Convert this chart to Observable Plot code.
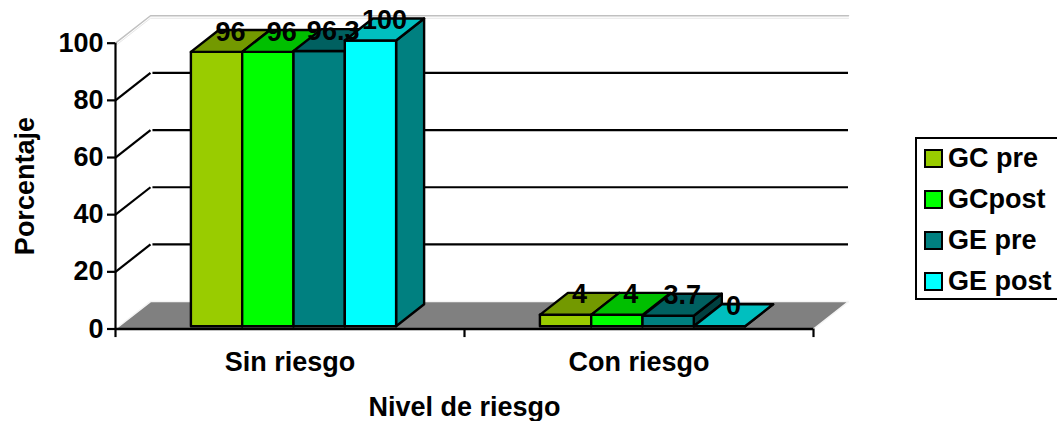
<!DOCTYPE html>
<html>
<head>
<meta charset="utf-8">
<script src="https://cdn.jsdelivr.net/npm/d3@7"></script>
<script src="https://cdn.jsdelivr.net/npm/@observablehq/plot@0.6"></script>
<style>
  html, body { margin: 0; padding: 0; background: #fff; overflow: hidden; }
  #chart { position: relative; width: 1059px; height: 421px; font-family: "Liberation Sans", Arial, sans-serif; font-weight: bold; }
  #chart svg { position: absolute; left: 0; top: 0; }
  #legend { position: absolute; left: 915px; top: 137px; width: 142px; height: 163px; box-sizing: border-box;
            border: 2px solid #000; border-right: none; font-size: 27px; color: #000; }
  #legend .row { position: absolute; left: 7px; display: flex; align-items: center; height: 24px; white-space: nowrap; }
  #legend .sw { width: 15px; height: 15px; border: 2px solid #000; margin-right: 5px; flex: none; }
</style>
</head>
<body>
<div id="chart"></div>
<script>
// Riesgo por grupo, antes y después de la intervención
const categories = ["Sin riesgo", "Con riesgo"];
const seriesNames = ["GC pre", "GCpost", "GE pre", "GE post"];
const gcPre = [96, 4];
const gcPost = [96, 4];
const gePre = [96.3, 3.7];
const gePost = [100, 0];
const seriesValues = [gcPre, gcPost, gePre, gePost];
const frontColors = ["#99cc00", "#00ff00", "#008080", "#00ffff"];
const topColors = ["#739900", "#00bf00", "#006060", "#00bfbf"];
const sideColors = ["#4d6600", "#008000", "#004040", "#008080"];
const yTicks = [0, 20, 40, 60, 80, 100];
const wallTicks = [20, 40, 60, 80];

// Oblique view: depth 0 is the front of the floor, depth 1 the back wall.
const skewX = 0.1003; // categories per unit of depth
const skewY = 9.6;    // percentage points per unit of depth
const px = (c, d) => c + skewX * d;
const py = (v, d) => v + skewY * d;
const point = (c, v, d) => ({x: px(c, d), y: py(v, d)});

const barWidth = 0.147;
const depthFront = 0.1;
const depthBack = 0.9;

// Cuboid faces, painted left to right so each bar covers its neighbour's side.
const faces = [];
categories.forEach((category, ci) => {
  seriesNames.forEach((name, si) => {
    const value = seriesValues[si][ci];
    const c0 = ci + 0.5 + (si - 2) * barWidth;
    const c1 = c0 + barWidth;
    const add = (fill, corners) => {
      const id = `${ci}-${si}-${fill}`;
      [...corners, corners[0]].forEach(([c, v, d]) => faces.push({id, fill, ...point(c, v, d)}));
    };
    add(sideColors[si], [[c1, 0, depthFront], [c1, 0, depthBack], [c1, value, depthBack], [c1, value, depthFront]]);
    add(frontColors[si], [[c0, 0, depthFront], [c1, 0, depthFront], [c1, value, depthFront], [c0, value, depthFront]]);
    add(topColors[si], [[c0, value, depthFront], [c1, value, depthFront], [c1, value, depthBack], [c0, value, depthBack]]);
  });
});

const barLabels = categories.flatMap((category, ci) =>
  seriesNames.map((name, si) => {
    const value = seriesValues[si][ci];
    return {...point(ci + 0.5 + (si - 1.5) * barWidth, value, 0.5), value};
  })
);

const floor = [[0, 0], [2, 0], [2, 1], [0, 1]].map(([c, d]) => point(c, 0, d));
const wallTop = [point(0, 100, 0), point(0, 100, 1), point(2, 100, 1)];
const wallStart = 0.007;
const fontSize = 27;
const bold = {fontSize, fontWeight: "bold", fontFamily: "Liberation Sans, Arial, sans-serif", fill: "#000"};

const plot = Plot.plot({
  width: 1059,
  height: 421,
  marginLeft: 115,
  marginRight: 246,
  marginTop: 42.7,
  marginBottom: 92.5,
  style: {background: "transparent", overflow: "visible"},
  x: {domain: [0, 2], axis: null},
  y: {domain: [0, 100]},
  color: {type: "identity"},
  marks: [
    // Floor and the pale outline of the wall
    Plot.line([...floor, floor[0]], {x: "x", y: "y", fill: "#808080", stroke: "none"}),
    Plot.line(wallTop, {x: "x", y: "y", stroke: "#e6e6e6", strokeWidth: 1, dy: 2.5}),
    Plot.line(wallTop, {x: "x", y: "y", stroke: "#c0c0c0", strokeWidth: 1.5}),
    Plot.line([point(0, 0, 0), point(0, 0, 1), point(2, 0, 1), point(2, 0, 0)], {x: "x", y: "y", stroke: "#f4f4f4", strokeWidth: 1.5}),
    // Gridlines across the wall and along the left side
    Plot.ruleY(wallTicks, {
      y: (v) => py(v, 1), x1: px(wallStart, 1), x2: px(2, 1), stroke: "#000", strokeWidth: 2.2
    }),
    Plot.link(wallTicks, {
      x1: px(0, 0), y1: (v) => v, x2: px(0, 1), y2: (v) => py(v, 1), stroke: "#000", strokeWidth: 2.2
    }),
    // Axes
    Plot.ruleX([0], {y1: 0, y2: 100, stroke: "#000", strokeWidth: 2.2}),
    Plot.ruleY([0], {x1: 0, x2: 2, stroke: "#000", strokeWidth: 2.5}),
    Plot.ruleX([0, 1, 2], {y1: 0, y2: -3, stroke: "#000", strokeWidth: 2.2}),
    Plot.axisY({
      ticks: yTicks, tickSize: 8, tickPadding: 4, label: null, strokeWidth: 2.2,
      fontSize, fontWeight: "bold", fontFamily: bold.fontFamily, fill: "#000", color: "#000"
    }),
    // Bars
    Plot.line(faces, {x: "x", y: "y", z: "id", fill: "fill", stroke: "#000", strokeWidth: 2.4, strokeLinejoin: "round"}),
    // Labels
    Plot.text(barLabels, {x: "x", y: "y", text: "value", dy: -9, ...bold}),
    Plot.text(categories, {x: (d, i) => i + 0.5, y: 0, text: (d) => d, dy: 33, ...bold}),
    Plot.text(["Nivel de riesgo"], {x: 1, y: 0, text: (d) => d, dy: 78, ...bold}),
    Plot.text(["Porcentaje"], {x: 0, y: 50, text: (d) => d, dx: -90, rotate: -90, ...bold})
  ]
});

const chart = document.getElementById("chart");
chart.append(plot);

// Legend to the right of the plot
const legend = document.createElement("div");
legend.id = "legend";
seriesNames.forEach((name, i) => {
  const row = document.createElement("div");
  row.className = "row";
  row.style.top = `${7 + i * 41}px`;
  const swatch = document.createElement("span");
  swatch.className = "sw";
  swatch.style.background = frontColors[i];
  row.append(swatch, name);
  legend.append(row);
});
chart.append(legend);
</script>
</body>
</html>
